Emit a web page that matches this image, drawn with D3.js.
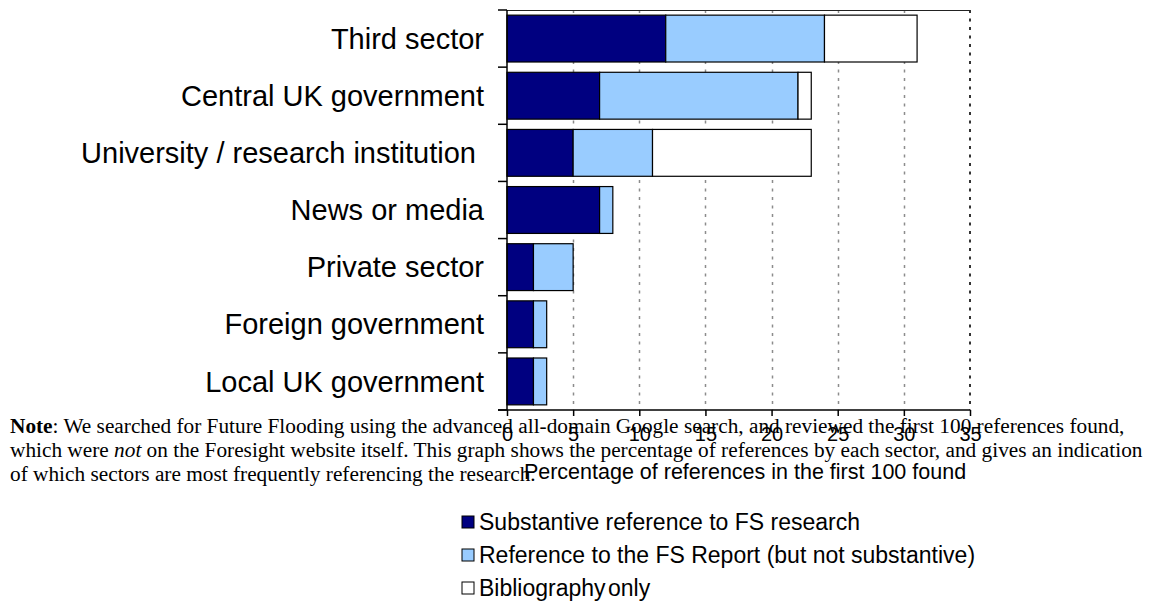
<!DOCTYPE html>
<html>
<head>
<meta charset="utf-8">
<script src="https://cdn.jsdelivr.net/npm/d3@7"></script>
<style>
  html, body { margin: 0; padding: 0; background: #fff; }
  svg { display: block; }
</style>
</head>
<body>
<svg id="chart" width="1149" height="602"></svg>
<script>
// Sectors, top to bottom
const categories = [
  "Third sector",
  "Central UK government",
  "University / research institution ",
  "News or media",
  "Private sector",
  "Foreign government",
  "Local UK government"
];

// Percentage of references in the first 100 found, per sector
const substantive   = [12, 7, 5, 7, 2, 2, 2];
const reportOnly    = [12, 15, 6, 1, 3, 1, 1];
const bibliography  = [7, 1, 12, 0, 0, 0, 0];

const seriesNames = [
  "Substantive reference to FS research",
  "Reference to the FS Report (but not substantive)",
  "Bibliography only"
];
const seriesColors = ["#000080", "#99CCFF", "#FFFFFF"];

const xTicks = [0, 5, 10, 15, 20, 25, 30, 35];
const xTitle = "Percentage of references in the first 100 found";

const svg = d3.select("#chart");

const plot = { left: 507, right: 970, top: 10, bottom: 410 };

const x = d3.scaleLinear().domain([0, 35]).range([plot.left, plot.right]);
const y = d3.scaleBand()
  .domain(categories)
  .range([plot.top, plot.bottom])
  .paddingInner(0.18)
  .paddingOuter(0.09);

const sans = "Arial, 'Liberation Sans', sans-serif";

// Dotted vertical gridlines
svg.append("g")
  .selectAll("line")
  .data(xTicks.filter(t => t > 0 && t < 35))
  .join("line")
  .attr("x1", d => Math.round(x(d)) + 0.5)
  .attr("x2", d => Math.round(x(d)) + 0.5)
  .attr("y1", plot.top)
  .attr("y2", plot.bottom)
  .attr("stroke", "#8c8c8c")
  .attr("stroke-width", 1.5)
  .attr("stroke-dasharray", "3,5.5");

// Plot-area border: right edge dotted, top edge solid
svg.append("line")
  .attr("x1", plot.right).attr("x2", plot.right)
  .attr("y1", plot.top).attr("y2", plot.bottom)
  .attr("stroke", "#333")
  .attr("stroke-width", 2)
  .attr("stroke-dasharray", "3,5.5");
svg.append("line")
  .attr("x1", plot.left).attr("x2", plot.right)
  .attr("y1", plot.top + 0.5).attr("y2", plot.top + 0.5)
  .attr("stroke", "#222")
  .attr("stroke-width", 1);

// Stacked bars
const stackData = categories.map((c, i) => ({
  cat: c, s0: substantive[i], s1: reportOnly[i], s2: bibliography[i]
}));
const stack = d3.stack().keys(["s0", "s1", "s2"])(stackData);

svg.append("g")
  .selectAll("g")
  .data(stack)
  .join("g")
  .attr("fill", (d, i) => seriesColors[i])
  .selectAll("rect")
  .data(d => d.filter(v => v[1] - v[0] > 0))
  .join("rect")
  .attr("x", d => x(d[0]))
  .attr("y", d => y(d.data.cat))
  .attr("width", d => x(d[1]) - x(d[0]))
  .attr("height", y.bandwidth())
  .attr("stroke", "#000")
  .attr("stroke-width", 1.2);

// Bottom axis
const xAxis = svg.append("g")
  .attr("transform", `translate(0,${plot.bottom})`)
  .call(d3.axisBottom(x).tickValues(xTicks).tickSize(6).tickPadding(11).tickFormat(d3.format("d")));
xAxis.select(".domain").remove();
xAxis.append("line")
  .attr("x1", plot.left - 9).attr("x2", plot.right)
  .attr("y1", 0).attr("y2", 0)
  .attr("stroke", "#000").attr("stroke-width", 1.5);
xAxis.selectAll(".tick line").attr("stroke", "#000").attr("stroke-width", 1.5);
xAxis.selectAll(".tick text")
  .attr("fill", "#000")
  .style("font-family", sans)
  .style("font-size", "20px");

// Left axis with ticks on band boundaries
const boundaries = categories.map(c => y(c) - y.step() * y.paddingInner() / 2)
  .concat([plot.bottom]);
const leftAxis = svg.append("g");
leftAxis.append("line")
  .attr("x1", plot.left).attr("x2", plot.left)
  .attr("y1", plot.top).attr("y2", plot.bottom)
  .attr("stroke", "#000").attr("stroke-width", 1.5);
leftAxis.selectAll("line.tk")
  .data(boundaries)
  .join("line")
  .attr("class", "tk")
  .attr("x1", plot.left - 9).attr("x2", plot.left)
  .attr("y1", d => d).attr("y2", d => d)
  .attr("stroke", "#000").attr("stroke-width", 1.5);

// Category labels
svg.append("g")
  .selectAll("text")
  .data(categories)
  .join("text")
  .attr("x", 484)
  .attr("y", d => y(d) + y.bandwidth() / 2)
  .attr("dy", "0.35em")
  .attr("text-anchor", "end")
  .style("white-space", "pre")
  .style("font-family", sans)
  .style("font-size", "29px")
  .attr("fill", "#000")
  .text(d => d);

// Axis title
svg.append("text")
  .attr("x", 745)
  .attr("y", 479)
  .attr("text-anchor", "middle")
  .style("font-family", sans)
  .style("font-size", "21.5px")
  .attr("fill", "#000")
  .text(xTitle);

// Note beneath the chart
const note = svg.append("text")
  .style("font-family", "'Liberation Serif', 'Times New Roman', serif")
  .style("font-size", "21.3px")
  .attr("fill", "#000");
const l1 = note.append("tspan").attr("x", 10).attr("y", 433);
l1.append("tspan").attr("font-weight", "bold").text("Note");
l1.append("tspan").text(": We searched for Future Flooding using the advanced all-domain Google search, and reviewed the first 100 references found,");
const l2 = note.append("tspan").attr("x", 10).attr("y", 457);
l2.append("tspan").text("which were ");
l2.append("tspan").attr("font-style", "italic").text("not");
l2.append("tspan").text(" on the Foresight website itself. This graph shows the percentage of references by each sector, and gives an indication");
note.append("tspan").attr("x", 10).attr("y", 481)
  .text("of which sectors are most frequently referencing the research.");

// Legend
const legend = svg.append("g")
  .selectAll("g")
  .data(seriesNames)
  .join("g")
  .attr("transform", (d, i) => `translate(462,${522 + i * 33})`);
legend.append("rect")
  .attr("x", 0).attr("y", -6)
  .attr("width", 12).attr("height", 12)
  .attr("fill", (d, i) => seriesColors[i])
  .attr("stroke", "#000").attr("stroke-width", 1);
legend.append("text")
  .attr("x", 17).attr("y", 0)
  .attr("dy", "0.35em")
  .style("font-family", sans)
  .style("font-size", "23px")
  .style("word-spacing", (d, i) => i === 2 ? "-4px" : null)
  .attr("fill", "#000")
  .text(d => d);
</script>
</body>
</html>
